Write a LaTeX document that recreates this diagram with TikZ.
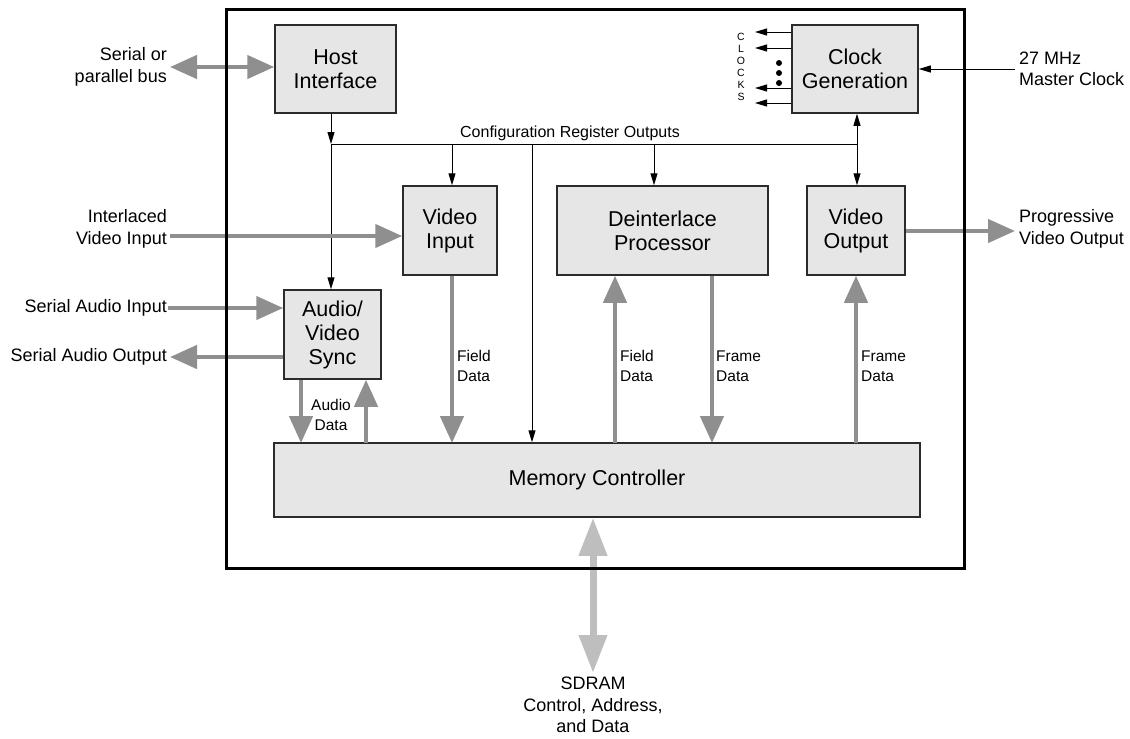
\documentclass[tikz,border=0pt]{standalone}
\usepackage{fontspec}
\setmainfont{Liberation Sans}
\usetikzlibrary{arrows.meta}
\definecolor{boxfill}{HTML}{E6E6E6}
\definecolor{busgray}{HTML}{8F8F8F}
\definecolor{ramgray}{HTML}{BEBEBE}
\definecolor{edgegray}{HTML}{2B2B2B}

\begin{document}
\begin{tikzpicture}[x=1pt, y=-1pt,
    block/.style={draw=edgegray, line width=1.5pt, fill=boxfill, align=center, inner sep=0pt,
      font=\fontsize{21.5}{24}\selectfont},
    bus/.style={draw=busgray, line width=4.5pt, -{Triangle[length=27pt,width=23pt]}},
    busboth/.style={draw=busgray, line width=4.5pt,
      {Triangle[length=27pt,width=23pt]}-{Triangle[length=27pt,width=23pt]}},
    ctrl/.style={draw=black, line width=1pt, -{Triangle[length=12pt,width=7pt]}},
    lbl/.style={font=\fontsize{18}{21.5}\selectfont, inner sep=1pt},
    small/.style={font=\fontsize{15.5}{20}\selectfont, align=left, anchor=west, inner sep=0pt}]
  \useasboundingbox (0,0) rectangle (1130,739);

  % blocks
  \node[block, minimum width=121pt, minimum height=88pt] (host) at (335.5,69) {Host\\Interface};
  \node[block, minimum width=126pt, minimum height=88pt] (clk)  at (855,69) {Clock\\Generation};
  \node[block, minimum width=94pt,  minimum height=89pt] (vin)  at (450,230.5) {Video\\Input};
  \node[block, minimum width=211pt, minimum height=89pt] (dei)  at (662.5,230.5) {Deinterlace\\Processor};
  \node[block, minimum width=98pt,  minimum height=89pt] (vout) at (856,230.5) {Video\\Output};
  \node[block, minimum width=97pt,  minimum height=89pt] (avs)  at (332.5,334.5) {Audio/\\Video\\Sync};
  \node[block, minimum width=646pt, minimum height=74pt] (mem)  at (597,480) {Memory Controller};

  % configuration bus
  \coordinate (hb) at (331,144);
  \coordinate (be) at (857,144);
  \coordinate (c1) at (452,144);
  \coordinate (c2) at (532,144);
  \coordinate (c3) at (654,144);
  \draw[ctrl] (hb |- host.south) -- (hb);
  \draw[line width=1pt] (hb) -- (be);
  \node[font=\fontsize{16}{19}\selectfont, inner sep=0pt] (cfg) at (570,133) {Configuration Register Outputs};
  \draw[ctrl] (hb) -- (hb |- avs.north);
  \draw[ctrl] (c1) -- (c1 |- vin.north);
  \draw[ctrl] (c2) -- (c2 |- mem.north);
  \draw[ctrl] (c3) -- (c3 |- dei.north);
  \draw[line width=1pt, {Triangle[length=12pt,width=7pt]}-{Triangle[length=12pt,width=7pt]}]
    (be |- clk.south) -- (be |- vout.north);

  % clocks out
  \foreach \y in {32,48,88,103}
    \draw[ctrl] (clk.west |- 0,\y) -- (755,\y);
  \foreach \y in {63,73,83}
    \fill (779,\y) circle (3pt);
  \node[font=\fontsize{10.5}{12}\selectfont, align=center, inner sep=0pt] (clks) at (741,67) {C\\L\\O\\C\\K\\S};

  % master clock
  \coordinate (mclk) at (1015,69);
  \draw[ctrl] (mclk) -- (clk.east);
  \node[lbl, anchor=west, align=left] (mclkl) at (1018,69) {27 MHz\\Master Clock};

  % host bus
  \coordinate (sbus) at (170,67);
  \draw[busboth] (sbus) -- (sbus -| host.west);
  \node[lbl, anchor=east, align=right] (sbusl) at (168,67) {Serial or\\parallel bus};

  % video in / out
  \coordinate (ivi) at (170,236);
  \draw[bus] (ivi) -- (ivi -| vin.west);
  \node[lbl, anchor=east, align=right] (ivil) at (168,229) {Interlaced\\Video Input};
  \coordinate (pvo) at (1015,231);
  \draw[bus] (vout.east |- pvo) -- (pvo);
  \node[lbl, anchor=west, align=left] (pvol) at (1018,229) {Progressive\\Video Output};

  % serial audio
  \coordinate (sai) at (168,308);
  \draw[bus] (sai) -- (sai -| avs.west);
  \node[lbl, anchor=east] (sail) at (168,308) {Serial Audio Input};
  \coordinate (sao) at (170,357);
  \draw[bus] (sao -| avs.west) -- (sao);
  \node[lbl, anchor=east] (saol) at (168,357) {Serial Audio Output};

  % data paths to memory controller
  \coordinate (ad1) at (301,443);
  \coordinate (ad2) at (366,443);
  \draw[bus] (ad1 |- avs.south) -- (ad1);
  \draw[bus] (ad2) -- (ad2 |- avs.south);
  \node[small, align=center, anchor=center] (adl) at (331,415) {Audio\\Data};

  \coordinate (fd0) at (452,443);
  \coordinate (fd1) at (615,443);
  \coordinate (fr1) at (712,443);
  \coordinate (fr2) at (856,443);
  \draw[bus] (fd0 |- vin.south) -- (fd0);
  \draw[bus] (fd1) -- (fd1 |- dei.south);
  \draw[bus] (fr1 |- dei.south) -- (fr1);
  \draw[bus] (fr2) -- (fr2 |- vout.south);
  \node[small] (fd0l) at (457,366) {Field\\Data};
  \node[small] (fd1l) at (620,366) {Field\\Data};
  \node[small] (fr1l) at (716,366) {Frame\\Data};
  \node[small] (fr2l) at (861,366) {Frame\\Data};

  % sdram
  \coordinate (ram) at (593,673);
  \draw[draw=ramgray, line width=7pt, {Triangle[length=38pt,width=27pt]}-{Triangle[length=38pt,width=27pt]}]
    (mem.south -| ram) -- (ram);
  \node[lbl, align=center, anchor=north] (raml) at (593,676) {SDRAM\\Control, Address,\\and Data};

  % chip outline
  \draw[line width=3pt] (226,9) rectangle (964,568);
\end{tikzpicture}
\end{document}
